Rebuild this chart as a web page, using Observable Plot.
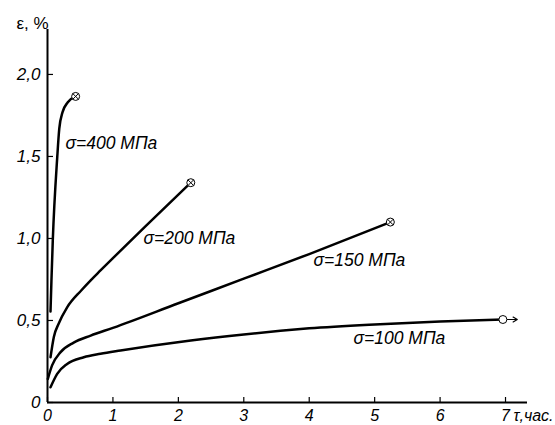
<!DOCTYPE html>
<html><head><meta charset="utf-8">
<script src="https://cdn.jsdelivr.net/npm/d3@7"></script>
<script src="https://cdn.jsdelivr.net/npm/@observablehq/plot@0.6"></script>
<style>body{margin:0;background:#fff}</style>
</head><body><div id="chart"></div>
<script>
// σ = 400 MPa
const t400 = [0.046, 0.06, 0.081, 0.148, 0.18, 0.23, 0.31, 0.43];
const e400 = [0.555, 0.74, 0.99, 1.49, 1.67, 1.77, 1.83, 1.866];
// σ = 200 MPa
const t200 = [0.046, 0.097, 0.17, 0.30, 0.515, 0.66, 0.81, 1.0, 1.5, 2.19];
const e200 = [0.276, 0.40, 0.48, 0.58, 0.683, 0.745, 0.805, 0.88, 1.075, 1.34];
// σ = 150 MPa
const t150 = [0.005, 0.07, 0.2, 0.4, 0.66, 1.0, 2.0, 3.0, 4.0, 5.24];
const e150 = [0.144, 0.226, 0.307, 0.365, 0.408, 0.455, 0.605, 0.755, 0.905, 1.10];
// σ = 100 MPa
const t100 = [0.046, 0.148, 0.3, 0.555, 0.81, 1.116, 2.19, 3.0, 3.56, 4.0, 5.0, 6.0, 6.96];
const e100 = [0.093, 0.175, 0.235, 0.276, 0.297, 0.317, 0.378, 0.415, 0.437, 0.452, 0.476, 0.494, 0.506];

const seriesLabels = ["σ=400 МПа", "σ=200 МПа", "σ=150 МПа", "σ=100 МПа"];
const xTicks = [0, 1, 2, 3, 4, 5, 6, 7];
const xTickLabels = ["0", "1", "2", "3", "4", "5", "6", "7"];
const yTicks = [0, 0.5, 1.0, 1.5, 2.0];
const yTickLabels = ["0", "0,5", "1,0", "1,5", "2,0"];
const yTitle = "ε, %";
const xTitle = "τ,час.";
const arrowEndT = 7.18;

const series = [[t400, e400], [t200, e200], [t150, e150], [t100, e100]];
const rows = series.flatMap(([ts, es], k) => ts.map((t, i) => ({t, e: es[i], s: seriesLabels[k]})));
const ends = series.map(([ts, es], k) => ({t: ts[ts.length - 1], e: es[es.length - 1], s: seriesLabels[k]}));
const crossEnds = ends.slice(0, 3);
const openEnds = ends.slice(3);

const font = "Liberation Sans, Arial, Helvetica, sans-serif";

const chart = Plot.plot({
  width: 555,
  height: 425,
  marginLeft: 47,
  marginRight: 28,
  marginTop: 29,
  marginBottom: 23,
  x: {domain: [0, 7.336]},
  y: {domain: [0, 2.274]},
  style: {fontFamily: font, background: "#fff", color: "#000"},
  marks: [
    Plot.ruleX([0], {stroke: "#000", strokeWidth: 2}),
    Plot.ruleY([0], {stroke: "#000", strokeWidth: 2}),
    Plot.axisX(xTicks, {tickSize: -5, tickPadding: 12, tickFormat: d => xTickLabels[xTicks.indexOf(d)], label: null,
      fontSize: 16, fontStyle: "italic", strokeWidth: 1.2}),
    Plot.axisY(yTicks, {tickSize: -6, tickPadding: 13, tickFormat: d => yTickLabels[yTicks.indexOf(d)], label: null,
      fontSize: 17, fontStyle: "italic", strokeWidth: 1.2}),
    Plot.line(rows, {x: "t", y: "e", z: "s", curve: "monotone-x", stroke: "#000", strokeWidth: 2.5}),
    Plot.arrow(openEnds, {x1: "t", y1: "e", x2: () => arrowEndT, y2: "e", insetStart: 4, headLength: 6, stroke: "#000", strokeWidth: 1.2}),
    Plot.dot(ends, {x: "t", y: "e", r: 4, fill: "#fff", stroke: "#000", strokeWidth: 1}),
    Plot.dot(crossEnds, {x: "t", y: "e", symbol: "times", r: 2.65, stroke: "#000", strokeWidth: 1}),
    Plot.text(seriesLabels, {x: [0.275, 1.467, 4.065, 4.677], y: [1.58, 1.0, 0.866, 0.39], text: d => d,
      textAnchor: "start", fontSize: 17.5, fontStyle: "italic", fill: "#000"}),
    Plot.text([yTitle], {frameAnchor: "top-left", lineAnchor: "middle", dx: -31, dy: -6, textAnchor: "start", fontSize: 17, fill: "#000"}),
    Plot.text([xTitle], {frameAnchor: "bottom-right", lineAnchor: "middle", dx: -14, dy: 13, textAnchor: "start", fontSize: 16, fontStyle: "italic", fill: "#000"})
  ]
});
document.getElementById("chart").appendChild(chart);
</script>
</body></html>
